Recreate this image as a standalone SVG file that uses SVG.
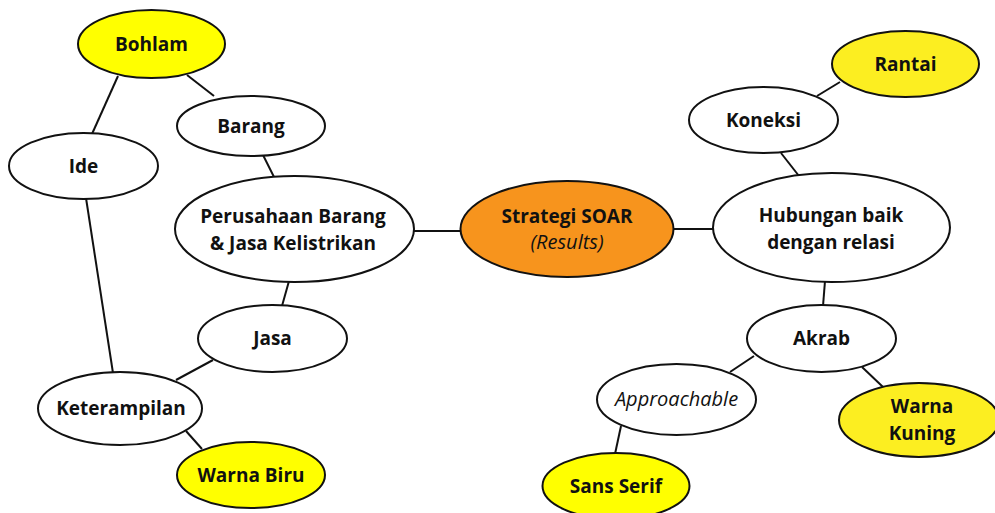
<svg xmlns="http://www.w3.org/2000/svg" width="995" height="513" viewBox="0 0 995 513">
<style>
  .n { stroke: #111; stroke-width: 2; fill: #fff; }
  .y { fill: #ffff00; }
  .y2 { fill: #fcee21; }
  .o { fill: #f7941d; }
  .t { font-family: "Open Sans", "Liberation Sans", sans-serif; font-size: 19px; font-weight: bold; fill: #111; text-anchor: middle; }
  .i { font-weight: normal; font-style: italic; font-size: 20px; }
  .c line { stroke: #111; stroke-width: 2; }
</style>
<rect width="995" height="513" fill="#fff"/>
<g class="c" id="connectors">
  <line x1="118" y1="76" x2="92" y2="134"/>
  <line x1="187" y1="75" x2="214" y2="96"/>
  <line x1="263" y1="155" x2="274" y2="177"/>
  <line x1="86" y1="198" x2="113" y2="373"/>
  <line x1="289" y1="281" x2="282" y2="306"/>
  <line x1="213" y1="360" x2="176" y2="380"/>
  <line x1="186" y1="431" x2="202" y2="449"/>
  <line x1="413" y1="231" x2="461" y2="231"/>
  <line x1="673" y1="229" x2="714" y2="229"/>
  <line x1="781" y1="153" x2="799" y2="176"/>
  <line x1="817" y1="96" x2="840" y2="82"/>
  <line x1="825" y1="281" x2="823" y2="306"/>
  <line x1="754" y1="356" x2="730" y2="372"/>
  <line x1="862" y1="367" x2="883" y2="387"/>
  <line x1="621" y1="426" x2="615" y2="454"/>
</g>
<g id="bohlam"><ellipse class="n y" cx="151.5" cy="44" rx="73.5" ry="34"/><text class="t" x="151.5" y="51">Bohlam</text></g>
<g id="ide"><ellipse class="n" cx="83.5" cy="166" rx="74.5" ry="33"/><text class="t" x="83.5" y="173">Ide</text></g>
<g id="barang"><ellipse class="n" cx="251" cy="126" rx="74" ry="30"/><text class="t" x="251" y="133">Barang</text></g>
<g id="perusahaan"><ellipse class="n" cx="294.5" cy="229" rx="119.5" ry="53"/><text class="t" x="293" y="223">Perusahaan Barang</text><text class="t" x="293" y="250">&amp; Jasa Kelistrikan</text></g>
<g id="jasa"><ellipse class="n" cx="272.5" cy="338.5" rx="74.5" ry="33.5"/><text class="t" x="272.5" y="345">Jasa</text></g>
<g id="keterampilan"><ellipse class="n" cx="120" cy="408.5" rx="82" ry="36.5"/><text class="t" x="121" y="415">Keterampilan</text></g>
<g id="warna-biru"><ellipse class="n y" cx="251" cy="475" rx="74" ry="33"/><text class="t" x="251" y="482">Warna Biru</text></g>
<g id="soar"><ellipse class="n o" cx="567" cy="229" rx="106.5" ry="48"/><text class="t" x="567" y="223">Strategi SOAR</text><text class="t i" x="567" y="249">(Results)</text></g>
<g id="hubungan"><ellipse class="n" cx="831.5" cy="227.5" rx="118.5" ry="54.5"/><text class="t" x="831" y="222">Hubungan baik</text><text class="t" x="831" y="249">dengan relasi</text></g>
<g id="koneksi"><ellipse class="n" cx="763.5" cy="120" rx="74.5" ry="33"/><text class="t" x="763.5" y="127">Koneksi</text></g>
<g id="rantai"><ellipse class="n y2" cx="905.5" cy="64" rx="73.5" ry="33"/><text class="t" x="905.5" y="71">Rantai</text></g>
<g id="akrab"><ellipse class="n" cx="821.5" cy="338.5" rx="74.5" ry="33.5"/><text class="t" x="821.5" y="345">Akrab</text></g>
<g id="approachable"><ellipse class="n" cx="676.5" cy="399.5" rx="79.5" ry="35.5"/><text class="t i" x="676.5" y="406">Approachable</text></g>
<g id="warna-kuning"><ellipse class="n y2" cx="919" cy="420" rx="80" ry="37"/><text class="t" x="922" y="413">Warna</text><text class="t" x="922" y="440">Kuning</text></g>
<g id="sans-serif"><ellipse class="n y" cx="616" cy="486" rx="73.5" ry="33"/><text class="t" x="616" y="493">Sans Serif</text></g>
</svg>
